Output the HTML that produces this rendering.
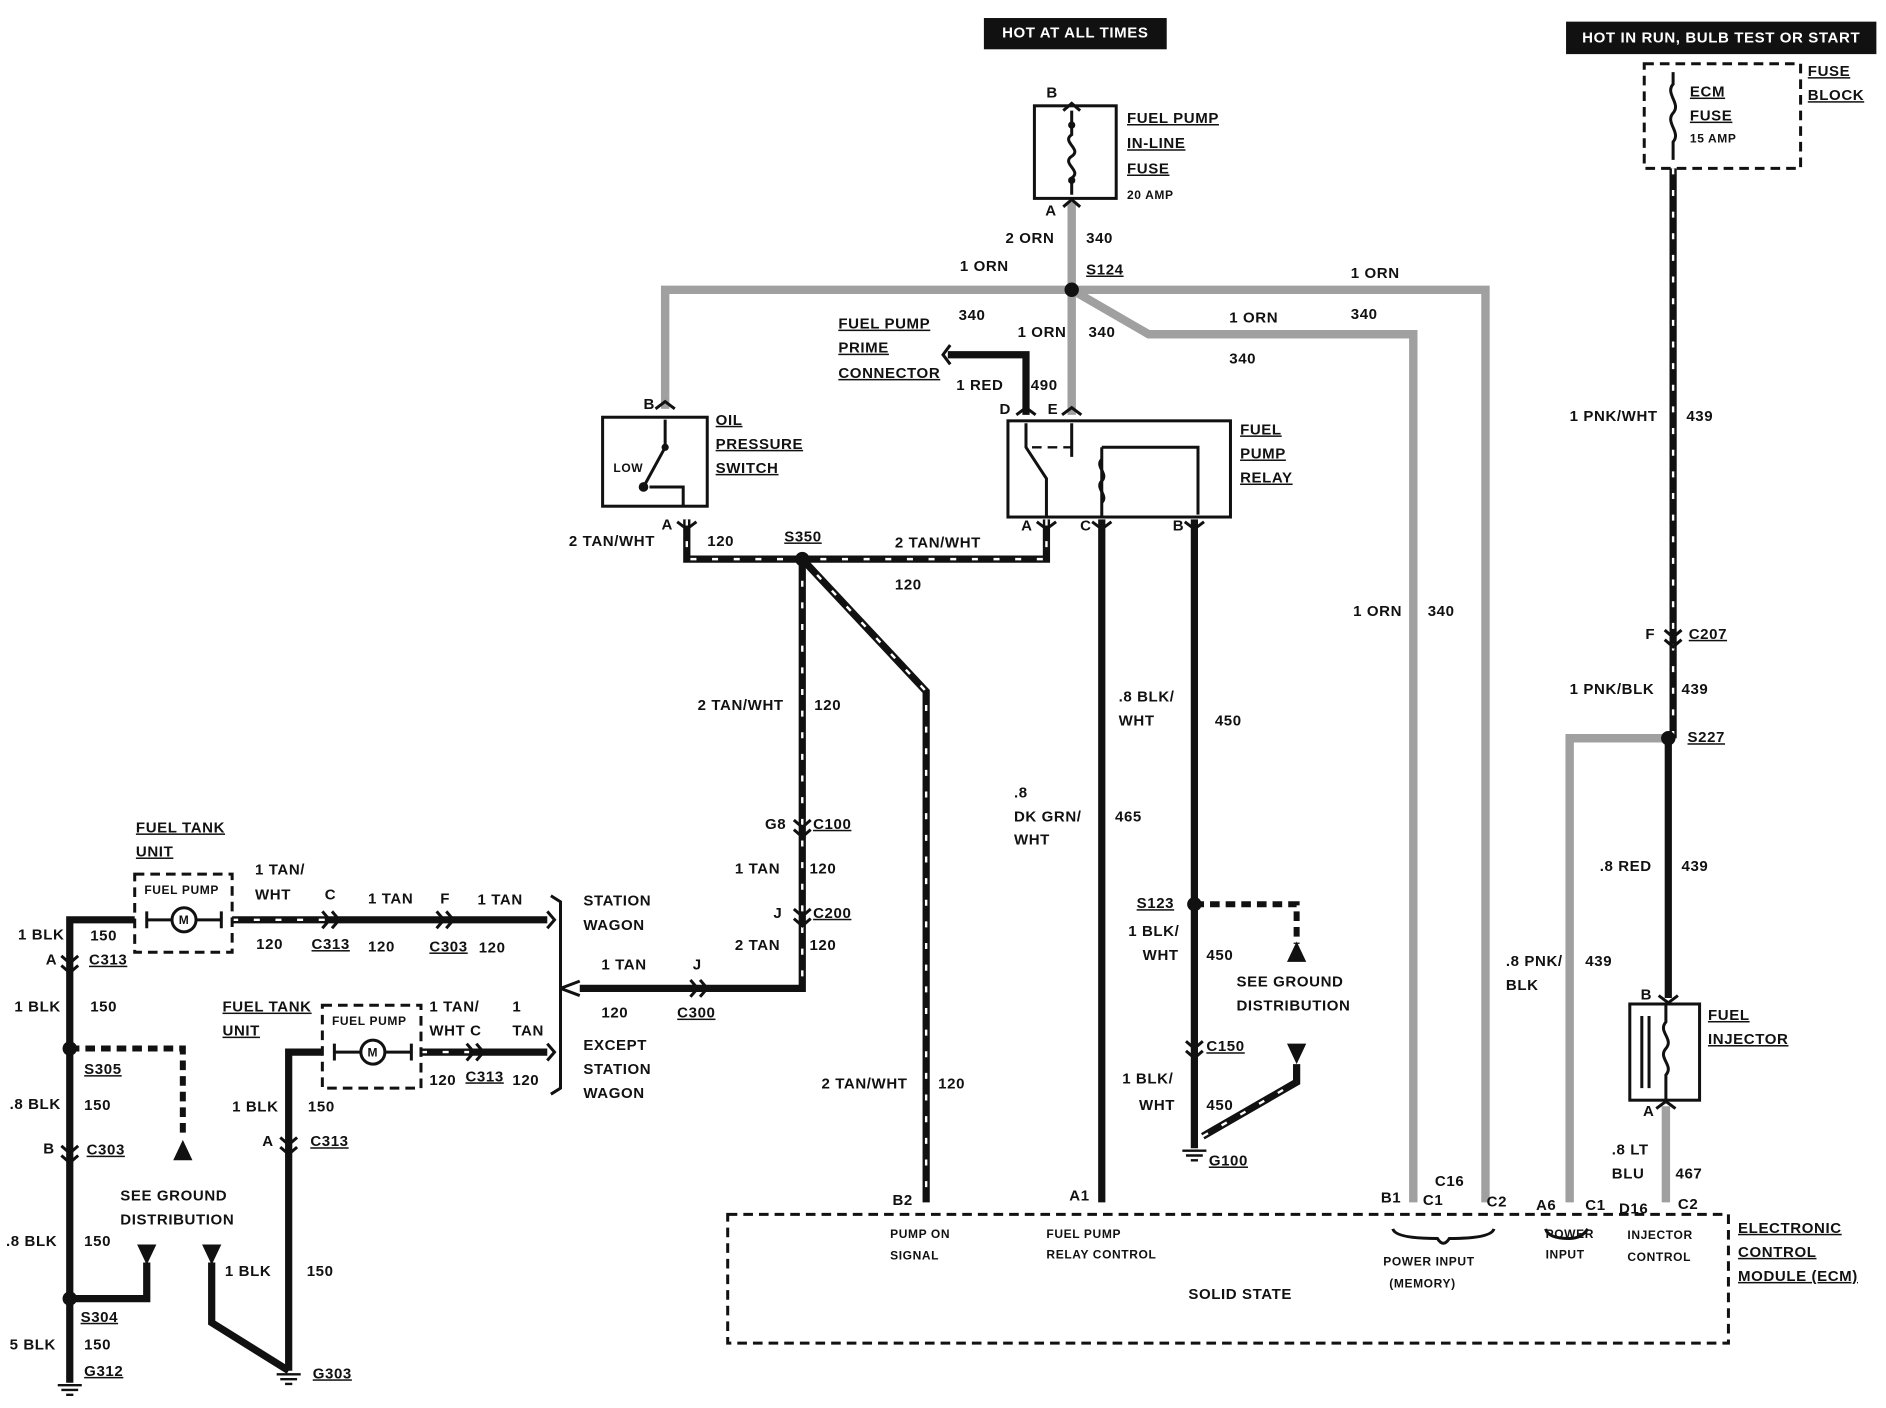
<!DOCTYPE html>
<html><head><meta charset="utf-8"><style>
html,body{margin:0;padding:0;background:#fff;}
svg{display:block;}
text{font-family:"Liberation Sans",sans-serif;font-weight:bold;font-size:12.5px;fill:#111;dominant-baseline:middle;letter-spacing:0.5px;}
.u{text-decoration:underline;}
.s{font-size:10px;}
.g{fill:none;stroke:#a0a0a0;stroke-width:7;}
.k{fill:none;stroke:#111;stroke-width:6;}
.w{fill:none;stroke:#fff;stroke-width:2;stroke-dasharray:5 13;}
.b{fill:none;stroke:#111;stroke-width:2.5;}
.d{fill:none;stroke:#111;stroke-width:2.5;stroke-dasharray:8 5;}
</style></head><body>
<svg width="1886" height="1408" viewBox="0 0 1568 1171" preserveAspectRatio="none" xmlns="http://www.w3.org/2000/svg">
<rect width="1568" height="1171" fill="#fff"/>
<!-- headers -->
<rect x="818" y="15" width="152" height="26" fill="#111"/>
<text x="894" y="28" text-anchor="middle" style="fill:#fff">HOT AT ALL TIMES</text>
<rect x="1302" y="18" width="258" height="27" fill="#111"/>
<text x="1431" y="32" text-anchor="middle" style="fill:#fff">HOT IN RUN, BULB TEST OR START</text>

<!-- grey wires -->
<path class="g" d="M891 168 V345"/>
<path class="g" d="M891 241 H553 V340"/>
<path class="g" d="M891 241 H1235 V1000"/>
<path class="g" d="M891 241 L955 278 H1175 V1000"/>
<path class="g" d="M1387 614 H1305 V1000"/>
<path class="g" d="M1385 920 V1000"/>

<!-- black wires -->
<path class="k" d="M788 295 H853 V345"/>
<path class="k" d="M916 432 V1000"/>
<path class="k" d="M993 432 V955"/>
<path class="k" d="M1387 614 V830"/>
<path class="k" d="M571 432 V465 H870 V432"/><path class="w" d="M571 432 V465 H870 V432"/>
<path class="k" d="M667 465 V822 H482"/><path class="w" d="M667 465 V822"/>
<path class="k" d="M667 465 L770 575 V1000"/><path class="w" d="M667 465 L770 575 V1000"/>
<path class="k" d="M1391 140 V614"/><path class="w" d="M1391 140 V614"/>
<path class="k" d="M1000 945 L1078 900 V885"/><path class="w" d="M1000 945 L1078 900"/>
<path class="d" d="M993 752 H1078 V785" style="stroke-width:5"/>

<!-- left side -->
<path class="k" d="M112 765 H58 V1150"/>
<path class="k" d="M193 765 H455"/><path class="w" d="M193 765 H272"/>
<path class="k" d="M268 875 H240 V1140"/>
<path class="k" d="M350 875 H455"/><path class="w" d="M350 875 H390"/>
<path class="d" d="M58 872 H152 V945" style="stroke-width:5"/>
<path class="k" d="M122 1050 V1080 H58"/>
<path class="k" d="M176 1050 V1100 L240 1140"/>
<polygon points="152,948 144,965 160,965" fill="#111"/>
<polygon points="114,1035 130,1035 122,1052" fill="#111"/>
<polygon points="168,1035 184,1035 176,1052" fill="#111"/>
<polygon points="1078,783 1070,800 1086,800" fill="#111"/>
<polygon points="1070,868 1086,868 1078,885" fill="#111"/>

<!-- connector marks -->
<g fill="none" stroke="#111" stroke-width="2.5">
<path d="M884 172 L891 166 L898 172 M884 92 L891 86 L898 92"/>
<path d="M545 340 L553 334 L561 340 M845 345 L853 339 L861 345 M883 345 L891 339 L899 345"/>
<path d="M563 434 L571 440 L579 434 M862 434 L870 440 L878 434 M908 434 L916 440 L924 434 M985 434 L993 440 L1001 434"/>
<path d="M660 682 L667 688 L674 682 M660 690 L667 696 L674 690 M660 756 L667 762 L674 756 M660 764 L667 770 L674 764"/>
<path d="M1384 524 L1391 530 L1398 524 M1384 532 L1391 538 L1398 532"/>
<path d="M1379 828 L1387 834 L1395 828 M1377 922 L1385 916 L1393 922"/>
<path d="M51 795 L58 801 L65 795 M51 803 L58 809 L65 803 M51 953 L58 959 L65 953 M51 961 L58 967 L65 961"/>
<path d="M233 946 L240 952 L247 946 M233 954 L240 960 L247 954"/>
<path d="M268 758 L274 765 L268 772 M276 758 L282 765 L276 772 M363 758 L369 765 L363 772 M371 758 L377 765 L371 772"/>
<path d="M388 868 L394 875 L388 882 M396 868 L402 875 L396 882 M574 815 L580 822 L574 829 M582 815 L588 822 L582 829"/>
<path d="M986 866 L993 872 L1000 866 M986 874 L993 880 L1000 874"/>
<path d="M790 287 L784 295 L790 303"/>
<path d="M458 745 L466 750 V905 L458 910 M466 822 L482 816 M466 822 L482 828"/>
<path d="M455 758 L461 765 L455 772 M455 868 L461 875 L455 882"/>
</g>
<!-- ground symbols -->
<g stroke="#111" stroke-width="2">
<path d="M48 1152 H68 M51 1156 H65 M55 1160 H61"/>
<path d="M230 1143 H250 M233 1147 H247 M237 1151 H243"/>
<path d="M983 957 H1003 M986 961 H1000 M990 965 H996"/>
</g>
<!-- splice dots -->
<g fill="#111">
<circle cx="891" cy="241" r="6"/><circle cx="667" cy="465" r="6"/><circle cx="993" cy="752" r="6"/>
<circle cx="1387" cy="614" r="6"/><circle cx="58" cy="872" r="6"/><circle cx="58" cy="1080" r="6"/>
</g>

<!-- fuse -->
<rect x="860" y="88" width="68" height="77" class="b" fill="#fff"/>
<path class="b" d="M891 92 V112 C882 118 900 124 891 130 C882 136 900 142 891 148 V162"/>
<circle cx="891" cy="104" r="3" fill="#111"/><circle cx="891" cy="150" r="3" fill="#111"/>
<!-- oil switch -->
<rect x="501" y="347" width="87" height="74" class="b"/>
<path class="b" d="M553 349 V372 L535 405 M540 405 H568 V420"/>
<circle cx="553" cy="372" r="3" fill="#111"/><circle cx="535" cy="405" r="4" fill="#111"/>
<!-- relay -->
<rect x="838" y="350" width="185" height="80" class="b"/>
<path class="b" d="M853 352 V372 L870 398 V430 M891 352 V380 M916 372 H996 V428 M916 372 V430"/>
<path class="d" d="M858 372 H891" style="stroke-width:2"/>
<path class="b" d="M916 382 C910 388 922 394 916 400 C910 406 922 412 916 418"/>
<!-- ECM fuse block -->
<rect x="1367" y="53" width="130" height="87" class="d"/>
<path class="b" d="M1391 60 V70 C1384 78 1398 86 1391 94 C1384 102 1398 110 1391 118 V133"/>
<!-- injector -->
<rect x="1355" y="835" width="58" height="80" class="b"/>
<path class="b" d="M1365 845 V905 M1371 845 V905 M1385 835 V850 C1378 858 1392 864 1385 872 C1378 880 1392 886 1385 894 V915"/>
<!-- fuel tank units -->
<rect x="112" y="727" width="81" height="65" class="d"/>
<circle cx="153" cy="765" r="10" class="b" fill="#fff"/><text x="153" y="766" text-anchor="middle" class="s">M</text>
<path class="b" d="M122 758 V772 M184 758 V772 M122 765 H143 M163 765 H184"/>
<rect x="268" y="836" width="82" height="69" class="d"/>
<circle cx="310" cy="875" r="10" class="b" fill="#fff"/><text x="310" y="876" text-anchor="middle" class="s">M</text>
<path class="b" d="M278 868 V882 M342 868 V882 M278 875 H300 M320 875 H342"/>
<!-- ECM -->
<rect x="605" y="1010" width="832" height="107" class="d"/>
<path class="b" d="M1158 1022 Q1160 1030 1195 1030 Q1200 1038 1205 1030 Q1240 1030 1242 1022 M1285 1022 Q1287 1030 1305 1030 Q1315 1030 1320 1022"/>

<!-- labels -->
<text x="870" y="78">B</text><text x="869" y="176">A</text>
<text x="937" y="99" class="u">FUEL PUMP</text><text x="937" y="120" class="u">IN-LINE</text><text x="937" y="141" class="u">FUSE</text><text x="937" y="163" class="s">20 AMP</text>
<text x="836" y="199">2 ORN</text><text x="903" y="199">340</text>
<text x="798" y="222">1 ORN</text><text x="903" y="225" class="u">S124</text>
<text x="1123" y="228">1 ORN</text><text x="1123" y="262">340</text>
<text x="1022" y="265">1 ORN</text><text x="1022" y="299">340</text>
<text x="846" y="277">1 ORN</text><text x="905" y="277">340</text><text x="797" y="263">340</text>
<text x="697" y="270" class="u">FUEL PUMP</text><text x="697" y="290" class="u">PRIME</text><text x="697" y="311" class="u">CONNECTOR</text>
<text x="795" y="321">1 RED</text><text x="857" y="321">490</text>
<text x="831" y="341">D</text><text x="871" y="341">E</text>
<text x="849" y="438">A</text><text x="898" y="438">C</text><text x="975" y="438">B</text>
<text x="1031" y="358" class="u">FUEL</text><text x="1031" y="378" class="u">PUMP</text><text x="1031" y="398" class="u">RELAY</text>
<text x="535" y="337">B</text><text x="550" y="437">A</text><text x="510" y="390" class="s">LOW</text>
<text x="595" y="350" class="u">OIL</text><text x="595" y="370" class="u">PRESSURE</text><text x="595" y="390" class="u">SWITCH</text>
<text x="473" y="451">2 TAN/WHT</text><text x="588" y="451">120</text><text x="652" y="447" class="u">S350</text>
<text x="744" y="452">2 TAN/WHT</text><text x="744" y="487">120</text>
<text x="580" y="587">2 TAN/WHT</text><text x="677" y="587">120</text>
<text x="636" y="686">G8</text><text x="676" y="686" class="u">C100</text>
<text x="611" y="723">1 TAN</text><text x="673" y="723">120</text>
<text x="643" y="760">J</text><text x="676" y="760" class="u">C200</text>
<text x="611" y="787">2 TAN</text><text x="673" y="787">120</text>
<text x="500" y="803">1 TAN</text><text x="576" y="803">J</text><text x="500" y="843">120</text><text x="563" y="843" class="u">C300</text>
<text x="683" y="902">2 TAN/WHT</text><text x="780" y="902">120</text>
<text x="930" y="580">.8 BLK/</text><text x="930" y="600">WHT</text><text x="1010" y="600">450</text>
<text x="843" y="660">.8</text><text x="843" y="680">DK GRN/</text><text x="843" y="699">WHT</text><text x="927" y="680">465</text>
<text x="945" y="752" class="u">S123</text><text x="938" y="775">1 BLK/</text><text x="950" y="795">WHT</text><text x="1003" y="795">450</text>
<text x="1028" y="817">SEE GROUND</text><text x="1028" y="837">DISTRIBUTION</text>
<text x="1003" y="871" class="u">C150</text><text x="933" y="898">1 BLK/</text><text x="947" y="920">WHT</text><text x="1003" y="920">450</text>
<text x="1005" y="966" class="u">G100</text>
<text x="1125" y="509">1 ORN</text><text x="1187" y="509">340</text>
<text x="1405" y="77" class="u">ECM</text><text x="1405" y="97" class="u">FUSE</text><text x="1405" y="116" class="s">15 AMP</text>
<text x="1503" y="60" class="u">FUSE</text><text x="1503" y="80" class="u">BLOCK</text>
<text x="1305" y="347">1 PNK/WHT</text><text x="1402" y="347">439</text>
<text x="1368" y="528">F</text><text x="1404" y="528" class="u">C207</text>
<text x="1305" y="574">1 PNK/BLK</text><text x="1398" y="574">439</text><text x="1403" y="614" class="u">S227</text>
<text x="1330" y="721">.8 RED</text><text x="1398" y="721">439</text>
<text x="1252" y="800">.8 PNK/</text><text x="1252" y="820">BLK</text><text x="1318" y="800">439</text>
<text x="1364" y="828">B</text><text x="1366" y="925">A</text>
<text x="1420" y="845" class="u">FUEL</text><text x="1420" y="865" class="u">INJECTOR</text>
<text x="1340" y="957">.8 LT</text><text x="1340" y="977">BLU</text><text x="1393" y="977">467</text>
<text x="742" y="999">B2</text><text x="889" y="995">A1</text><text x="1148" y="997">B1</text><text x="1183" y="999">C1</text><text x="1193" y="983">C16</text><text x="1236" y="1000">C2</text>
<text x="1277" y="1003">A6</text><text x="1318" y="1003">C1</text><text x="1346" y="1006">D16</text><text x="1395" y="1002">C2</text>
<text x="740" y="1027" class="s">PUMP ON</text><text x="740" y="1045" class="s">SIGNAL</text>
<text x="870" y="1027" class="s">FUEL PUMP</text><text x="870" y="1044" class="s">RELAY CONTROL</text>
<text x="1150" y="1050" class="s">POWER INPUT</text><text x="1155" y="1068" class="s">(MEMORY)</text>
<text x="1285" y="1027" class="s">POWER</text><text x="1285" y="1044" class="s">INPUT</text>
<text x="1353" y="1028" class="s">INJECTOR</text><text x="1353" y="1046" class="s">CONTROL</text>
<text x="988" y="1077">SOLID STATE</text>
<text x="1445" y="1022" class="u">ELECTRONIC</text><text x="1445" y="1042" class="u">CONTROL</text><text x="1445" y="1062" class="u">MODULE (ECM)</text>
<!-- left labels -->
<text x="113" y="689" class="u">FUEL TANK</text><text x="113" y="709" class="u">UNIT</text><text x="120" y="741" class="s">FUEL PUMP</text>
<text x="212" y="724">1 TAN/</text><text x="212" y="745">WHT</text><text x="270" y="745">C</text>
<text x="213" y="786">120</text><text x="259" y="786" class="u">C313</text>
<text x="306" y="748">1 TAN</text><text x="366" y="748">F</text><text x="306" y="788">120</text><text x="357" y="788" class="u">C303</text>
<text x="397" y="749">1 TAN</text><text x="398" y="789">120</text>
<text x="485" y="750">STATION</text><text x="485" y="770">WAGON</text>
<text x="485" y="870">EXCEPT</text><text x="485" y="890">STATION</text><text x="485" y="910">WAGON</text>
<text x="15" y="778">1 BLK</text><text x="75" y="779">150</text><text x="38" y="799">A</text><text x="74" y="799" class="u">C313</text>
<text x="12" y="838">1 BLK</text><text x="75" y="838">150</text><text x="70" y="890" class="u">S305</text>
<text x="8" y="919">.8 BLK</text><text x="70" y="920">150</text><text x="36" y="956">B</text><text x="72" y="957" class="u">C303</text>
<text x="100" y="995">SEE GROUND</text><text x="100" y="1015">DISTRIBUTION</text>
<text x="5" y="1033">.8 BLK</text><text x="70" y="1033">150</text>
<text x="67" y="1096" class="u">S304</text><text x="8" y="1119">5 BLK</text><text x="70" y="1119">150</text><text x="70" y="1141" class="u">G312</text>
<text x="185" y="838" class="u">FUEL TANK</text><text x="185" y="858" class="u">UNIT</text><text x="276" y="850" class="s">FUEL PUMP</text>
<text x="357" y="838">1 TAN/</text><text x="357" y="858">WHT C</text><text x="357" y="899">120</text><text x="387" y="896" class="u">C313</text>
<text x="426" y="838">1</text><text x="426" y="858">TAN</text><text x="426" y="899">120</text>
<text x="193" y="921">1 BLK</text><text x="256" y="921">150</text><text x="218" y="950">A</text><text x="258" y="950" class="u">C313</text>
<text x="187" y="1058">1 BLK</text><text x="255" y="1058">150</text><text x="260" y="1143" class="u">G303</text>
</svg>
</body></html>
